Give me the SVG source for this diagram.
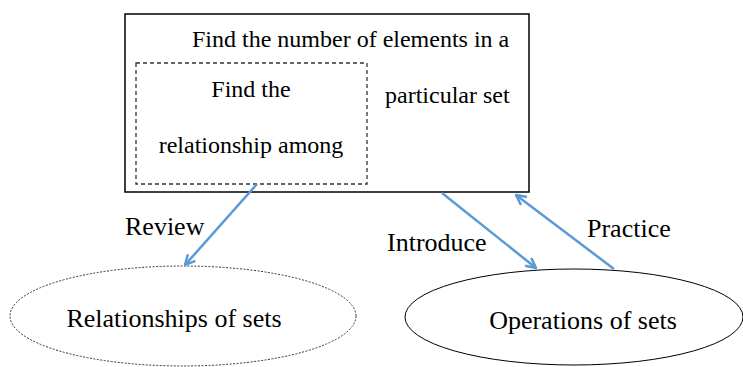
<svg xmlns="http://www.w3.org/2000/svg" width="743" height="367" viewBox="0 0 743 367">
<style>
text{font-family:'Liberation Serif','DejaVu Serif',serif;fill:#000}
.box{font-size:24px}
.lbl{font-size:26px}
.conn{stroke:#5B9BD5;stroke-width:2.5;fill:none}
</style>
<defs>
<marker id="arr" viewBox="0 0 12 12" refX="11" refY="6" markerWidth="12" markerHeight="12" markerUnits="userSpaceOnUse" orient="auto">
<path d="M1,1 L11,6 L1,11" fill="none" stroke="#5B9BD5" stroke-width="2.5"/>
</marker>
</defs>
<rect width="743" height="367" fill="#fff"/>
<g id="node-main">
<rect x="125" y="14" width="404" height="178" fill="#fff" stroke="#000" stroke-width="1.5"/>
<text class="box" x="192" y="47">Find the number of elements in a</text>
<text class="box" x="385" y="103">particular set</text>
</g>
<g id="node-inner">
<rect x="136" y="63" width="231" height="121" fill="none" stroke="#333" stroke-width="1.3" stroke-dasharray="4,3"/>
<text class="box" x="251" y="97" text-anchor="middle">Find the</text>
<text class="box" x="251" y="153" text-anchor="middle">relationship among</text>
</g>
<g id="node-relationships">
<ellipse cx="183" cy="316" rx="173" ry="50" fill="none" stroke="#333" stroke-width="1" stroke-dasharray="2,1.5"/>
<text class="lbl" x="174" y="327" text-anchor="middle">Relationships of sets</text>
</g>
<g id="node-operations">
<ellipse cx="574" cy="317" rx="169" ry="48" fill="none" stroke="#000" stroke-width="1"/>
<text class="lbl" x="583" y="329" text-anchor="middle">Operations of sets</text>
</g>
<g id="connectors">
<line class="conn" x1="257" y1="184" x2="185" y2="265" marker-end="url(#arr)"/>
<line class="conn" x1="442" y1="193" x2="536" y2="268" marker-end="url(#arr)"/>
<line class="conn" x1="614" y1="269" x2="516" y2="195" marker-end="url(#arr)"/>
</g>
<g id="labels">
<text class="lbl" x="125" y="235">Review</text>
<text class="lbl" x="387" y="251">Introduce</text>
<text class="lbl" x="587" y="237">Practice</text>
</g>
</svg>
